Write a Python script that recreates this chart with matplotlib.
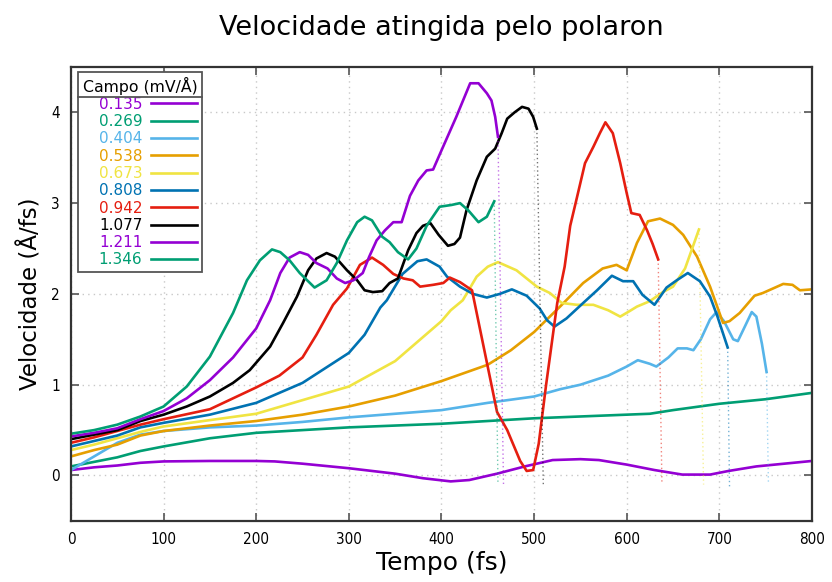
import matplotlib
matplotlib.use("Agg")
import matplotlib.pyplot as plt
from matplotlib.lines import Line2D
import numpy as np

# campo eletrico de cada simulacao (mV/A) e cores
campos = ["0.135", "0.269", "0.404", "0.538", "0.673",
          "0.808", "0.942", "1.077", "1.211", "1.346"]
cores = ["#9400d3", "#009e73", "#56b4e9", "#e69f00", "#f0e442",
         "#0072b2", "#e51e10", "#000000", "#9400d3", "#009e73"]

# tempo (fs) e velocidade (A/fs) de cada curva
t_0135 = [0, 25, 50, 75, 100, 150, 200, 220, 250, 300, 350, 380, 410, 430, 460,
          490, 520, 550, 570, 600, 630, 660, 690, 710, 740, 770, 800]
v_0135 = [0.06, 0.09, 0.11, 0.14, 0.155, 0.16, 0.16, 0.155, 0.13, 0.08, 0.02,
          -0.03, -0.065, -0.05, 0.02, 0.1, 0.17, 0.18, 0.17, 0.12, 0.06, 0.01,
          0.01, 0.05, 0.1, 0.13, 0.16]

t_0269 = [0, 25, 50, 75, 100, 150, 200, 250, 300, 350, 400, 450, 500, 550, 600,
          625, 650, 700, 750, 800]
v_0269 = [0.1, 0.15, 0.2, 0.27, 0.32, 0.41, 0.47, 0.5, 0.53, 0.55, 0.57, 0.6,
          0.63, 0.65, 0.67, 0.68, 0.72, 0.79, 0.84, 0.91]

t_0404 = [0, 25, 50, 75, 100, 150, 200, 250, 300, 350, 400, 450, 500, 528, 550,
          580, 600, 612, 625, 632, 645, 655, 665, 672, 680, 690, 697, 705, 715,
          720, 728, 735, 740, 746, 751]
v_0404 = [0.06, 0.21, 0.36, 0.45, 0.49, 0.53, 0.55, 0.59, 0.64, 0.68, 0.72, 0.8,
          0.87, 0.95, 1.0, 1.1, 1.2, 1.27, 1.23, 1.2, 1.3, 1.4, 1.4, 1.38, 1.5,
          1.72, 1.8, 1.7, 1.5, 1.48, 1.65, 1.8, 1.75, 1.45, 1.14]

t_0538 = [0, 25, 50, 75, 100, 150, 200, 250, 300, 350, 400, 450, 475, 500, 528,
          553, 574, 589, 600, 611, 623, 636, 650, 661, 676, 690, 704, 711, 722,
          738, 747, 758, 769, 779, 787, 800]
v_0538 = [0.21, 0.28, 0.34, 0.44, 0.49, 0.55, 0.6, 0.67, 0.76, 0.88, 1.04, 1.22,
          1.38, 1.58, 1.86, 2.12, 2.28, 2.32, 2.26, 2.56, 2.8, 2.83, 2.76, 2.65,
          2.41, 2.08, 1.68, 1.7, 1.79, 1.98, 2.01, 2.06, 2.11, 2.1, 2.04, 2.05]

t_0673 = [0, 25, 50, 75, 100, 150, 200, 250, 300, 350, 400, 410, 423, 438, 450,
          461, 481, 503, 517, 530, 546, 564, 580, 593, 603, 611, 625, 639, 650,
          663, 670, 678]
v_0673 = [0.28, 0.34, 0.41, 0.48, 0.54, 0.61, 0.68, 0.83, 0.98, 1.26, 1.7, 1.82,
          1.93, 2.19, 2.3, 2.35, 2.26, 2.08, 2.01, 1.9, 1.88, 1.88, 1.82, 1.75,
          1.81, 1.86, 1.92, 2.02, 2.08, 2.28, 2.48, 2.71]

t_0808 = [0, 25, 50, 75, 100, 150, 200, 250, 300, 317, 334, 341, 358, 374, 384,
          398, 406, 420, 434, 449, 463, 476, 492, 506, 514, 522, 535, 553, 568,
          584, 596, 607, 617, 630, 643, 654, 666, 679, 690, 698, 709]
v_0808 = [0.32, 0.38, 0.44, 0.53, 0.58, 0.67, 0.8, 1.02, 1.35, 1.55, 1.85, 1.93,
          2.22, 2.36, 2.38, 2.3, 2.19, 2.08, 2.0, 1.96, 2.0, 2.05, 1.98, 1.84,
          1.71, 1.64, 1.73, 1.9, 2.04, 2.2, 2.14, 2.14, 1.99, 1.88, 2.07, 2.15,
          2.23, 2.14, 1.97, 1.75, 1.41]

t_0942 = [0, 25, 50, 75, 100, 150, 200, 225, 250, 265, 283, 298, 312, 325, 337,
          348, 359, 369, 377, 391, 402, 409, 420, 433, 460, 471, 485, 492, 499,
          505, 513, 525, 533, 539, 546, 555, 564, 571, 577, 585, 593, 600, 605,
          614, 622, 628, 634]
v_0942 = [0.36, 0.42, 0.49, 0.56, 0.62, 0.73, 0.97, 1.1, 1.3, 1.55, 1.88, 2.06,
          2.32, 2.4, 2.32, 2.22, 2.17, 2.15, 2.08, 2.1, 2.12, 2.18, 2.13, 2.04,
          0.7, 0.5, 0.16, 0.05, 0.06, 0.35, 1.0, 1.9, 2.3, 2.75, 3.05, 3.44,
          3.62, 3.77, 3.89, 3.77, 3.44, 3.11, 2.89, 2.87, 2.7, 2.55, 2.38]

t_1077 = [0, 25, 50, 75, 100, 125, 150, 175, 193, 215, 229, 244, 256, 265, 276,
          285, 298, 309, 317, 326, 336, 344, 353, 364, 373, 380, 388, 397, 407,
          414, 420, 427, 438, 449, 458, 465, 471, 479, 487, 494, 499, 503]
v_1077 = [0.4, 0.45, 0.5, 0.6, 0.67, 0.76, 0.87, 1.02, 1.16, 1.42, 1.68, 1.97,
          2.26, 2.39, 2.45, 2.41, 2.26, 2.15, 2.04, 2.02, 2.03, 2.12, 2.17, 2.48,
          2.67, 2.75, 2.78, 2.65, 2.53, 2.55, 2.62, 2.92, 3.25, 3.51, 3.6, 3.77,
          3.93, 4.0, 4.06, 4.04, 3.95, 3.82]

t_1211 = [0, 25, 50, 75, 100, 125, 150, 175, 200, 215, 226, 236, 247, 256, 265,
          277, 287, 296, 305, 315, 322, 330, 339, 348, 357, 366, 375, 384, 391,
          400, 416, 431, 440, 449, 454, 458, 461]
v_1211 = [0.43, 0.47, 0.52, 0.62, 0.71, 0.85, 1.05, 1.3, 1.62, 1.93, 2.23, 2.4,
          2.46, 2.43, 2.34, 2.28, 2.17, 2.12, 2.15, 2.23, 2.41, 2.59, 2.7, 2.79,
          2.79, 3.08, 3.25, 3.36, 3.37, 3.58, 3.95, 4.32, 4.32, 4.21, 4.13, 3.95,
          3.73]

t_1346 = [0, 25, 50, 75, 100, 125, 150, 175, 190, 204, 217, 226, 236, 247, 263,
          276, 287, 298, 309, 317, 325, 336, 344, 353, 364, 373, 384, 398, 411,
          420, 429, 440, 449, 457]
v_1346 = [0.46, 0.5, 0.56, 0.65, 0.76, 0.98, 1.31, 1.79, 2.15, 2.37, 2.49, 2.46,
          2.37, 2.23, 2.07, 2.15, 2.34, 2.59, 2.79, 2.85, 2.81, 2.63, 2.57, 2.46,
          2.38, 2.5, 2.75, 2.96, 2.98, 3.0, 2.92, 2.79, 2.85, 3.02]

tempos = [t_0135, t_0269, t_0404, t_0538, t_0673,
          t_0808, t_0942, t_1077, t_1211, t_1346]
velocidades = [v_0135, v_0269, v_0404, v_0538, v_0673,
               v_0808, v_0942, v_1077, v_1211, v_1346]

# queda final das curvas que terminam antes de 800 fs (tempo e velocidade no fim)
queda_t = [None, None, 753, None, 683, 711, 638, 510, 467, 461]
queda_v = [None, None, -0.08, None, -0.1, -0.12, -0.07, -0.12, -0.1, -0.1]

plt.rcParams["font.family"] = "DejaVu Sans"

fig = plt.figure(figsize=(8.32, 5.82), dpi=100)
ax = fig.add_axes([0.0853, 0.105, 0.8906, 0.78])

ax.grid(True, color="#c8c8c8", linestyle=(0, (1, 3)), linewidth=1.0)
ax.set_axisbelow(True)

handles = []
for t, v, c, qt, qv in zip(tempos, velocidades, cores, queda_t, queda_v):
    ln, = ax.plot(t, v, color=c, lw=1.9, solid_joinstyle="round")
    handles.append(ln)
    if qt is not None:
        ax.plot([t[-1], qt], [v[-1], qv], color=c, lw=1.0,
                linestyle=(0, (1, 2)), alpha=0.55)

ax.set_xlim(0, 800)
ax.set_ylim(-0.5, 4.5)
ax.set_xticks(np.arange(0, 801, 100))
ax.set_yticks([0, 1, 2, 3, 4])
ax.tick_params(direction="in", length=6, width=1.2, color="#555555",
               top=True, right=True, labelsize=11, pad=8)
for lab in ax.get_xticklabels() + ax.get_yticklabels():
    lab.set_fontstretch("condensed")
for s in ax.spines.values():
    s.set_linewidth(1.6)
    s.set_color("#333333")

ax.set_xlabel("Tempo (fs)", fontsize=18, labelpad=3)
ax.set_ylabel("Velocidade (Å/fs)", fontsize=16.5, labelpad=6)
ax_pos = ax.get_position()
fig.text((ax_pos.x0 + ax_pos.x1) / 2, 1 - 35 / 582,
         "Velocidade atingida pelo polaron", fontsize=19.5,
         ha="center", va="baseline")

leg = ax.legend(handles, campos, loc="upper left",
                bbox_to_anchor=(0.0094, 0.989), borderaxespad=0,
                markerfirst=False, labelcolor="linecolor",
                title="Campo (mV/Å)", title_fontsize=11.3, fontsize=11,
                frameon=True, fancybox=False, edgecolor="#555555",
                framealpha=1, handlelength=3.0, handletextpad=0.6,
                labelspacing=0.15, borderpad=0.3)
leg.get_frame().set_linewidth(1.3)
leg._legend_box.align = "right"

# linha separando o titulo da legenda das entradas
fig.canvas.draw()
inv = fig.transFigure.inverted()
lb = leg.get_window_extent()
tb = leg.get_title().get_window_extent()
y_sep = tb.y0 - 2
(x0, ys), (x1, _) = inv.transform([(lb.x0, y_sep), (lb.x1, y_sep)])
fig.add_artist(Line2D([x0, x1], [ys, ys], transform=fig.transFigure,
                      color="#555555", lw=1.3))

fig.savefig("out.png", dpi=100)
